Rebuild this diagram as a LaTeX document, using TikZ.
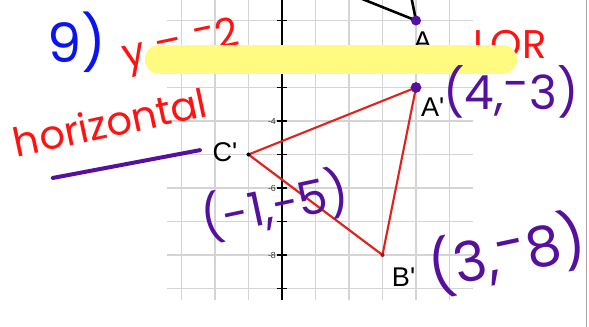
\documentclass[tikz,border=0pt]{standalone}
\usepackage{fontspec}
\setmainfont{Liberation Sans}
\newfontfamily\handfont{Poppins}
\usetikzlibrary{calc}
\definecolor{pgrid}{HTML}{D4D4D4}
\definecolor{pred}{HTML}{E3211C}
\definecolor{pink}{HTML}{FF1212}
\definecolor{ppurple}{HTML}{55109E}
\definecolor{pblue}{HTML}{0A14F0}
\definecolor{pyellow}{HTML}{FFFA80}
\tikzset{
  gridline/.style={draw=pgrid, line width=0.9pt},
  axisline/.style={draw=black, line width=2.5pt},
  origside/.style={draw=black, line width=2.2pt, line cap=round},
  imgside/.style={draw=pred, line width=1.8pt, line join=round},
  ptlabel/.style={font=\fontsize{23}{23}\selectfont, inner sep=0pt},
  ticklabel/.style={font=\fontsize{7.5}{7.5}\selectfont, text=black!80, anchor=east, inner sep=1pt},
  redhand/.style={text=pink, font=\handfont\fontsize{34}{34}\selectfont, inner sep=0pt},
  purphand/.style={text=ppurple, font=\handfont\fontsize{40}{40}\selectfont, inner sep=0pt},
  hilite/.style={draw=pyellow, line width=0.87cm, line cap=round},
  penline/.style={draw=ppurple, line width=3.4pt, line cap=round},
}
\newcommand{\himinus}{\raisebox{0.2em}{-}}

\begin{document}
\begin{tikzpicture}
  \useasboundingbox (-8.418,-10.149) rectangle (9.164,-0.388);
  \begin{scope}
  \clip (-8.418,-10.149) rectangle (9.164,-0.388);

  %% ── Grid and y-axis ──
  \draw[gridline] (-3.43,-9.34) grid (5.7,-0.388);
  \draw[axisline] (0,-9.34) -- (0,-0.3);
  \foreach \k in {1,...,9}
    \draw[line width=1.2pt] (-0.15,-\k) -- (0.15,-\k);
  \node[ticklabel] (t4) at (-0.14,-4) {-4};
  \node[ticklabel] (t6) at (-0.14,-6) {-6};
  \node[ticklabel] (t8) at (-0.14,-8) {-8};

  %% ── Original triangle (mostly above the page) ──
  \coordinate (A) at (4,-1);
  \coordinate (B) at (3,4);
  \coordinate (C) at (-1,1);
  \draw[origside] (B) -- (A) -- (C);
  \fill[ppurple] (A) circle (0.15);

  %% ── Image triangle ──
  \coordinate (Ap) at (4,-3);
  \coordinate (Bp) at (3,-8);
  \coordinate (Cp) at (-1,-5);
  \draw[imgside] (Ap) -- (Bp) -- (Cp) -- cycle;
  \fill[black] (Cp) circle (0.06);
  \fill[pred!70!black] (Bp) circle (0.06);
  \fill[ppurple] (Ap) circle (0.16);

  \node[ptlabel] (labA) at (4.20,-1.62) {A};
  \node[ptlabel] (labAp) at (4.50,-3.60) {A\textquotesingle};
  \node[ptlabel] (labBp) at (3.63,-8.66) {B\textquotesingle};
  \node[ptlabel] (labCp) at (-1.70,-4.93) {C\textquotesingle};

  %% ── Handwriting under the highlighter ──
  \node[redhand, rotate=12] (eqn) at (-3.01,-1.80) {y = \himinus2};
  \node[redhand] (lor) at (6.81,-1.73) {LOR};
  \draw[hilite] (-3.66,-2.164) -- (6.58,-2.164);

  %% ── Handwriting on top ──
  \node[text=pblue, font=\handfont\fontsize{46}{46}\selectfont, inner sep=0pt] (num) at (-6.12,-1.64) {9)};
  \node[redhand, rotate=12] (horiz) at (-5.13,-4.03) {horizontal};
  \draw[penline] (-6.84,-5.70) -- (-2.45,-4.87);
  \node[purphand] (capA) at (6.84,-3.13) {(4,\himinus3)};
  \node[purphand, rotate=12] (capC) at (-0.21,-6.51) {(-1,-5)};
  \node[purphand, rotate=12, font=\handfont\fontsize{47}{47}\selectfont] (capB) at (6.72,-7.95) {(3,\himinus8)};

  \draw[gray!70, line width=0.8pt] (9.1,-0.388) -- (9.1,-10.149);
  \end{scope}
\end{tikzpicture}
\end{document}
